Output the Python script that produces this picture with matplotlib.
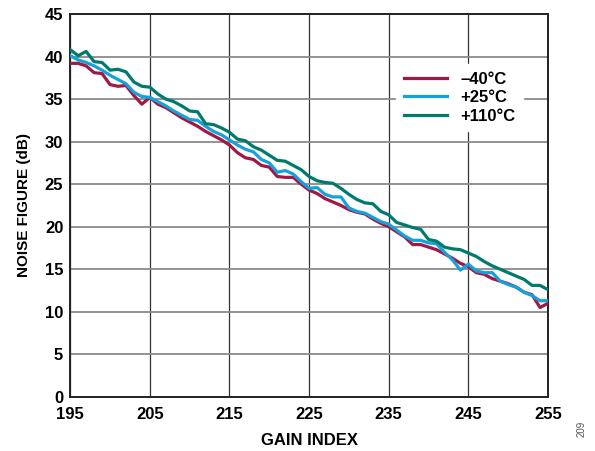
import numpy as np
import matplotlib
matplotlib.use("Agg")
import matplotlib.pyplot as plt

plt.rcParams['font.family'] = ['Liberation Sans', 'DejaVu Sans']

gain = np.arange(195, 256)

nf_m40 = [39.2, 39.2, 38.9, 38.1, 38.0, 36.7, 36.5, 36.6, 35.4, 34.4,
          35.2, 34.4, 34.0, 33.4, 32.8, 32.3, 31.8, 31.2, 30.7, 30.2,
          29.6, 28.7, 28.1, 27.9, 27.2, 27.0, 25.9, 25.8, 25.8, 25.0,
          24.3, 23.9, 23.3, 22.9, 22.5, 22.0, 21.7, 21.5, 20.9, 20.4,
          20.0, 19.4, 18.8, 17.9, 17.9, 17.6, 17.3, 16.8, 16.3, 15.7,
          15.3, 14.6, 14.4, 13.9, 13.6, 13.3, 12.9, 12.3, 12.0, 10.5,
          11.0]

nf_25 = [40.1, 39.6, 39.3, 38.9, 38.4, 37.8, 37.3, 36.8, 35.8, 35.3,
         35.2, 34.7, 34.2, 33.6, 33.1, 32.6, 32.5, 31.8, 31.2, 30.8,
         30.2, 29.6, 29.1, 28.8, 27.9, 27.5, 26.4, 26.6, 26.2, 25.3,
         24.5, 24.6, 23.8, 23.5, 23.5, 22.2, 21.8, 21.6, 21.1, 20.6,
         20.3, 19.6, 18.9, 18.4, 18.4, 18.1, 18.0, 17.0, 16.1, 14.9,
         15.6, 14.8, 14.6, 14.6, 13.6, 13.2, 12.9, 12.3, 11.9, 11.3,
         11.3]

nf_110 = [40.8, 40.1, 40.6, 39.4, 39.3, 38.4, 38.5, 38.2, 37.0, 36.5,
          36.4, 35.6, 35.0, 34.7, 34.2, 33.6, 33.5, 32.1, 32.0, 31.6,
          31.1, 30.3, 30.1, 29.4, 29.0, 28.4, 27.8, 27.7, 27.2, 26.7,
          25.9, 25.4, 25.2, 25.1, 24.5, 23.8, 23.2, 22.8, 22.7, 21.8,
          21.4, 20.5, 20.2, 19.9, 19.7, 18.5, 18.3, 17.6, 17.4, 17.3,
          16.9, 16.5, 15.9, 15.4, 15.0, 14.6, 14.2, 13.8, 13.1, 13.1,
          12.6]

labels = ["\u201340\u00b0C", "+25\u00b0C", "+110\u00b0C"]
colors = ["#a01848", "#14a3d9", "#007a6c"]

fig = plt.figure(figsize=(5.95, 4.51), dpi=100)
ax = fig.add_axes([0.118, 0.12, 0.803, 0.849])

for y, lab, c in zip([nf_m40, nf_25, nf_110], labels, colors):
    ax.plot(gain, y, color=c, lw=2.3, label=lab, zorder=3)

ax.set_xlim(195, 255)
ax.set_ylim(0, 45)
ax.set_xticks(np.arange(195, 256, 10))
ax.set_yticks(np.arange(0, 46, 5))
ax.xaxis.grid(True, color="#333333", lw=0.9)
ax.yaxis.grid(True, color="#8a8a8a", lw=1.3)
ax.set_axisbelow(True)
ax.tick_params(length=0, labelsize=12)
ax.tick_params(axis="x", pad=7)
ax.tick_params(axis="y", pad=5)
for t in ax.get_xticklabels() + ax.get_yticklabels():
    t.set_fontweight("bold")
for s in ax.spines.values():
    s.set_linewidth(1.4)
    s.set_color("#222222")

ax.set_xlabel("GAIN INDEX", fontsize=12, fontweight="bold", labelpad=8)
ax.set_ylabel("NOISE FIGURE (dB)", fontsize=11, fontweight="bold", labelpad=10)

leg = ax.legend(loc="upper left", bbox_to_anchor=(0.665, 0.89), fontsize=12,
                frameon=True, fancybox=False, framealpha=1, edgecolor="white",
                handlelength=2.6, handletextpad=0.8, labelspacing=0.2,
                borderpad=0.45)
for t in leg.get_texts():
    t.set_fontweight("bold")
leg.set_zorder(4)

fig.text(0.978, 0.03, "209", rotation=90, fontsize=7, color="#555555",
         ha="center", va="bottom")

fig.savefig("out.png", dpi=100)
